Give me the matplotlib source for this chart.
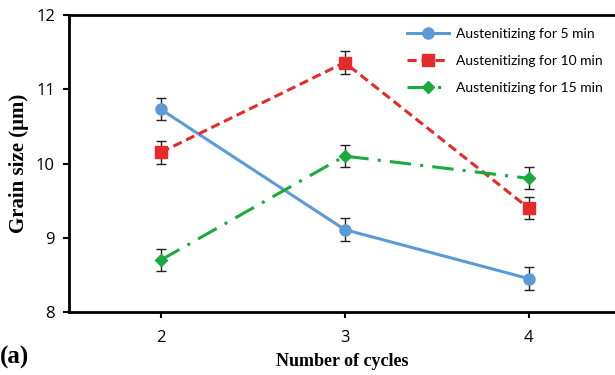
import matplotlib.pyplot as plt

# grain size vs number of thermal cycles
cycles = [2, 3, 4]
labels = ["Austenitizing for 5 min", "Austenitizing for 10 min", "Austenitizing for 15 min"]
grain_5min = [10.73, 9.11, 8.45]
grain_10min = [10.15, 11.36, 9.40]
grain_15min = [8.70, 10.10, 9.80]
err_5min = [0.15, 0.15, 0.15]
err_10min = [0.15, 0.15, 0.15]
err_15min = [0.15, 0.15, 0.15]

fig = plt.figure(figsize=(6.15, 3.75), dpi=100)
ax = fig.add_axes([0.112, 0.168, 0.888, 0.792])

styles = [
    dict(color="#5b9bd5", ls="-", marker="o", ms=8),
    dict(color="#e32b2b", ls=(0, (3, 1.6)), marker="s", ms=8),
    dict(color="#1aab3e", ls=(0, (7, 3, 1, 3)), marker="D", ms=6.5),
]
handles = []
for y, e, lab, st in zip([grain_5min, grain_10min, grain_15min],
                         [err_5min, err_10min, err_15min], labels, styles):
    c = ax.errorbar(cycles, y, yerr=e, color=st["color"], ls=st["ls"], lw=2.2,
                    marker=st["marker"], ms=st["ms"], mec=st["color"],
                    ecolor="#222222", elinewidth=1, capsize=3.5, capthick=1,
                    label=lab)
    handles.append(c[0])

ax.set_xlim(1.5, 4.47)
ax.set_ylim(8, 12)
ax.set_xticks(cycles)
ax.set_yticks([8, 9, 10, 11, 12])
ax.spines["right"].set_visible(False)
for s in ["left", "bottom", "top"]:
    ax.spines[s].set_linewidth(2)
ax.tick_params(axis="both", direction="out", length=4, width=1.5,
               labelsize=12, pad=6)
for t in ax.get_xticklabels() + ax.get_yticklabels():
    t.set_family("Open Sans")
ax.tick_params(axis="x", pad=9)

ax.set_xlabel("Number of cycles", family="Liberation Serif",
              fontweight="bold", fontsize=13, labelpad=5)
ax.set_ylabel("Grain size (μm)", family="Liberation Serif",
              fontweight="bold", fontsize=15, labelpad=5)
fig.text(0.0, 0.03, "(a)", family="Liberation Serif", fontweight="bold",
         fontsize=18)

ax.legend(handles=handles, labels=labels, loc="upper right", frameon=False,
          prop={"family": "Lato", "size": 10}, handlelength=3.0,
          handletextpad=0.5, labelspacing=1.1,
          bbox_to_anchor=(1.0, 1.0))

fig.savefig("out.png", dpi=100)
